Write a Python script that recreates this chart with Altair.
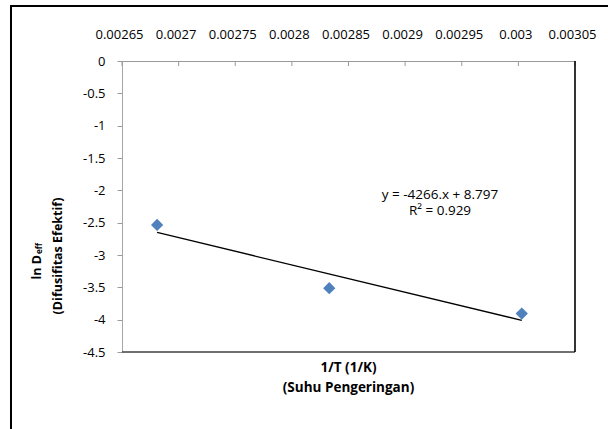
import altair as alt
import pandas as pd

# ---- data ----
inv_T = [0.002681, 0.002833, 0.003003]
ln_deff = [-2.535, -3.513, -3.906]
x_ticks = [0.00265, 0.0027, 0.00275, 0.0028, 0.00285, 0.0029, 0.00295, 0.003, 0.00305]
y_ticks = [0, -0.5, -1, -1.5, -2, -2.5, -3, -3.5, -4, -4.5]
eq_lines = ["y = -4266.x + 8.797", "R\u00b2 = 0.929"]
x_title = ["1/T (1/K)", "(Suhu Pengeringan)"]
y_title_main = "ln D"
y_title_sub = "eff"
y_title_2 = "(Difusifitas  Efektif)"

df = pd.DataFrame({"x": inv_T, "y": ln_deff})
ticks_df = pd.DataFrame({"t": x_ticks})

W, H = 453, 291
FONT = "Open Sans"
xs = alt.Scale(domain=[x_ticks[0], x_ticks[-1]], nice=False, zero=False)
ys = alt.Scale(domain=[y_ticks[-1], y_ticks[0]], nice=False, zero=False)

x_axis = alt.Axis(
    orient="top", values=x_ticks, labelExpr="'' + datum.value",
    tickSize=0, labelFlush=False, labelPadding=20, labelOffset=-3,
    domainColor="#9a9a9a", domainWidth=1, grid=False, title=None,
    labelFont=FONT, labelFontSize=13, labelColor="#000000")
y_axis = alt.Axis(
    values=y_ticks, labelExpr="'' + datum.value",
    tickSize=5, tickColor="#9a9a9a", labelPadding=12,
    domainColor="#a6a6a6", domainWidth=1, grid=False, title=None,
    labelFont=FONT, labelFontSize=13, labelColor="#000000")

points = alt.Chart(df).mark_point(
    shape="diamond", filled=True, size=150, color="#4f81bd", opacity=1
).encode(
    x=alt.X("x:Q", scale=xs, axis=x_axis),
    y=alt.Y("y:Q", scale=ys, axis=y_axis),
)

trend = alt.Chart(df).transform_regression("x", "y").mark_line(
    color="#000000", strokeWidth=1.3
).encode(x=alt.X("x:Q", scale=xs, axis=x_axis), y=alt.Y("y:Q", scale=ys, axis=y_axis))

inner_ticks = alt.Chart(ticks_df).mark_rule(color="#9a9a9a", strokeWidth=1).encode(
    x=alt.X("t:Q", scale=xs, axis=x_axis), y=alt.value(0), y2=alt.value(5)
)

one = alt.Data(values=[{}])
bottom_border = alt.Chart(one).mark_rule(color="#404040", strokeWidth=1.6).encode(
    x=alt.value(0), x2=alt.value(W), y=alt.value(H)
)
right_border = alt.Chart(one).mark_rule(color="#000000", strokeWidth=1.6).encode(
    x=alt.value(W), y=alt.value(0), y2=alt.value(H)
)
frame = alt.Chart(one).mark_rect(
    fillOpacity=0, stroke="#000000", strokeWidth=2
).encode(x=alt.value(-111), x2=alt.value(W + 60), y=alt.value(-55), y2=alt.value(H + 120))

eq1 = alt.Chart(one).mark_text(
    text=eq_lines[0], font=FONT, fontSize=13.5, align="center",
    baseline="middle", color="#000000"
).encode(x=alt.value(318), y=alt.value(134))
eq2 = alt.Chart(one).mark_text(
    text=eq_lines[1], font=FONT, fontSize=13.5, align="center",
    baseline="middle", color="#000000"
).encode(x=alt.value(318), y=alt.value(150))

xt1 = alt.Chart(one).mark_text(
    text=x_title[0], font=FONT, fontSize=13.5, fontWeight="bold", align="center",
    baseline="middle", color="#000000"
).encode(x=alt.value(W / 2), y=alt.value(307))
xt2 = alt.Chart(one).mark_text(
    text=x_title[1], font=FONT, fontSize=13.5, fontWeight="bold", align="center",
    baseline="middle", color="#000000"
).encode(x=alt.value(W / 2), y=alt.value(327))

yt_main = alt.Chart(one).mark_text(
    text=y_title_main, font=FONT, fontSize=12.5, fontWeight="bold", align="right",
    baseline="middle", angle=270, color="#000000"
).encode(x=alt.value(-85.5), y=alt.value(194))
yt_sub = alt.Chart(one).mark_text(
    text=y_title_sub, font=FONT, fontSize=8, fontWeight="bold", align="left",
    baseline="middle", angle=270, color="#000000"
).encode(x=alt.value(-82.5), y=alt.value(193))
yt2 = alt.Chart(one).mark_text(
    text=y_title_2, font=FONT, fontSize=12.5, fontWeight="bold", align="center",
    baseline="middle", angle=270, color="#000000"
).encode(x=alt.value(-64), y=alt.value(195))

chart = alt.layer(
    inner_ticks, frame, bottom_border, right_border, trend, points,
    eq1, eq2, xt1, xt2, yt_main, yt_sub, yt2
).properties(
    width=W, height=H,
    autosize=alt.AutoSizeParams(type="none"),
    padding={"left": 122, "top": 61, "right": 33, "bottom": 77},
    background="white",
).configure_view(stroke=None)

chart.save("out.html", embed_options={"renderer": "svg", "actions": False})
